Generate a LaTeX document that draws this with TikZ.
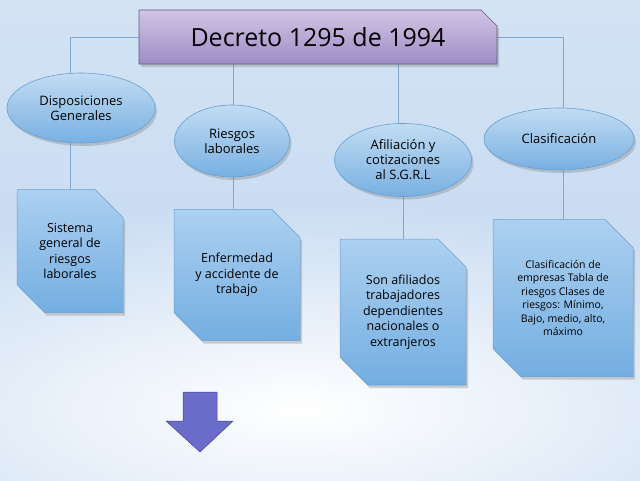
\documentclass[tikz,border=0pt]{standalone}
\usepackage{fontspec}
\setmainfont{Open Sans}
\usetikzlibrary{shapes.geometric,shapes.misc,shadows,backgrounds}
\definecolor{bgblue}{HTML}{C9DCF2}
\definecolor{bgtop}{HTML}{D3E3F4}
\definecolor{linec}{HTML}{7EAAD2}
\definecolor{elltop}{HTML}{C2DCF2}
\definecolor{ellbot}{HTML}{78B0E2}
\definecolor{ellbord}{HTML}{6A9FCF}
\definecolor{recttop}{HTML}{ACD0F0}
\definecolor{rectbot}{HTML}{74AEE2}
\definecolor{titletop}{HTML}{D2C4E4}
\definecolor{titlebot}{HTML}{9E8DC6}
\definecolor{titlebord}{HTML}{5F5B7E}
\definecolor{arrowc}{HTML}{6B6BC9}
\definecolor{arrowbord}{HTML}{45458F}
\tikzset{
  shadowed/.style={drop shadow={opacity=0.35,shadow xshift=2pt,shadow yshift=-3pt}},
  oval/.style={ellipse,draw=ellbord,line width=0.6pt,top color=elltop,bottom color=ellbot,
    shadowed,align=center,font=\fontsize{13}{15}\selectfont,inner sep=0pt},
  snipbox/.style={chamfered rectangle,chamfered rectangle corners={north east,south west},
    chamfered rectangle xsep=14pt,chamfered rectangle ysep=14pt,
    draw=ellbord,line width=0.5pt,top color=recttop,bottom color=rectbot,
    shadowed,align=center,font=\fontsize{12.5}{15.5}\selectfont,inner sep=0pt},
  titlebox/.style={chamfered rectangle,chamfered rectangle corners=north east,
    chamfered rectangle xsep=8pt,chamfered rectangle ysep=8pt,
    draw=titlebord,line width=0.6pt,top color=titletop,bottom color=titlebot,
    shadowed,font=\fontsize{25}{29}\selectfont,inner sep=0pt},
  conn/.style={draw=linec,line width=0.8pt}
}
\begin{document}
\begin{tikzpicture}[x=1pt,y=-1pt]
\useasboundingbox (0,0) rectangle (640,480);
% title
\node[titlebox,minimum width=358pt,minimum height=54pt] (title) at (318,37) {Decreto 1295 de 1994};
% ellipses
\node[oval,minimum width=148pt,minimum height=70pt] (e1) at (81,108) {Disposiciones\\Generales};
\node[oval,minimum width=115pt,minimum height=72pt] (e2) at (232,141) {Riesgos\\laborales};
\node[oval,minimum width=137pt,minimum height=73pt] (e3) at (403,160) {Afiliación y\\cotizaciones\\al S.G.R.L};
\node[oval,minimum width=150pt,minimum height=62pt] (e4) at (559,139) {Clasificación};
% boxes
\node[snipbox,minimum width=106pt,minimum height=123pt] (r1) at (70,251) {Sistema\\general de\\riesgos\\laborales};
\node[snipbox,minimum width=126pt,minimum height=131pt] (r2) at (237,275) {Enfermedad\\y accidente de\\trabajo};
\node[snipbox,minimum width=126pt,minimum height=146pt] (r3) at (403,312) {Son afiliados\\trabajadores\\dependientes\\nacionales o\\extranjeros};
\node[snipbox,minimum width=140pt,minimum height=157pt,font=\fontsize{10.5}{13.5}\selectfont] (r4) at (563,298) {Clasificación de\\empresas Tabla de\\riesgos Clases de\\riesgos: Mínimo,\\Bajo, medio, alto,\\máximo};
% junction coordinates
\coordinate (j1) at (70,37);
\coordinate (j2) at (233,37);
\coordinate (j3) at (398,37);
\coordinate (j4) at (563,37);
\coordinate (k3) at (403,160);
% down arrow
\filldraw[fill=arrowc,draw=arrowbord,line width=0.5pt]
  (183,392) -- (217,392) -- (217,421) -- (233,421) -- (200,452) -- (166,421) -- (183,421) -- cycle;
\begin{scope}[on background layer]
  \fill[bgblue] (0,0) rectangle (640,480);
  \fill[top color=bgtop,bottom color=bgblue] (0,0) rectangle (640,240);
  \begin{scope}
    \clip (0,0) rectangle (640,480);
    \fill[inner color=white,outer color=bgblue] (-300,200) rectangle (900,620);
  \end{scope}
  \draw[conn] (j1) -- (j4);
  \draw[conn] (j1) -- (j1 |- r1.north);
  \draw[conn] (j2) -- (j2 |- r2.north);
  \draw[conn] (j3) -- (j3 |- e3.center);
  \draw[conn] (k3) -- (k3 |- r3.north);
  \draw[conn] (j4) -- (j4 |- r4.north);
\end{scope}
\end{tikzpicture}
\end{document}
